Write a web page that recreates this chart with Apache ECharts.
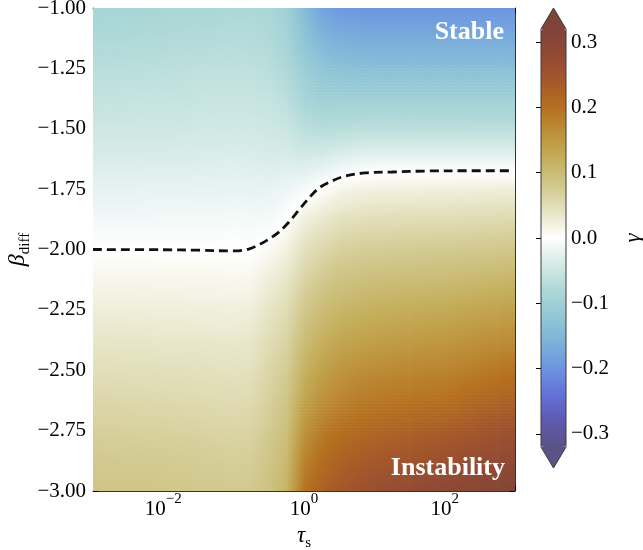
<!DOCTYPE html>
<html><head><meta charset="utf-8">
<script src="https://cdn.jsdelivr.net/npm/echarts@6/dist/echarts.min.js"></script>
<style>html,body{margin:0;padding:0;background:#fff}#c{width:643px;height:550px}</style>
</head><body><div id="c"></div>
<script>
// ---------------- data ----------------
const logTau = [-3,-2.75,-2.5,-2.25,-2,-1.75,-1.5,-1.25,-1,-0.75,-0.5,-0.25,0,0.25,0.5,0.75,1,1.25,1.5,1.75,2,2.25,2.5,2.75,3];
const beta = [-1,-1.125,-1.25,-1.375,-1.5,-1.625,-1.75,-1.875,-2,-2.125,-2.25,-2.375,-2.5,-2.625,-2.75,-2.875,-3];
// gamma per beta row (top to bottom), columns follow logTau
const gRow00 = [-0.090,-0.089,-0.088,-0.087,-0.086,-0.085,-0.084,-0.083,-0.081,-0.081,-0.084,-0.098,-0.140,-0.180,-0.195,-0.198,-0.200,-0.200,-0.200,-0.200,-0.200,-0.200,-0.200,-0.200,-0.200];
const gRow01 = [-0.079,-0.079,-0.078,-0.077,-0.076,-0.075,-0.074,-0.073,-0.072,-0.073,-0.076,-0.090,-0.123,-0.152,-0.162,-0.166,-0.168,-0.168,-0.168,-0.168,-0.168,-0.168,-0.168,-0.168,-0.168];
const gRow02 = [-0.068,-0.068,-0.067,-0.067,-0.066,-0.065,-0.064,-0.063,-0.063,-0.064,-0.067,-0.080,-0.105,-0.122,-0.130,-0.133,-0.135,-0.135,-0.135,-0.135,-0.135,-0.135,-0.135,-0.135,-0.135];
const gRow03 = [-0.058,-0.058,-0.057,-0.057,-0.056,-0.056,-0.055,-0.054,-0.053,-0.054,-0.057,-0.066,-0.088,-0.100,-0.100,-0.100,-0.100,-0.100,-0.100,-0.100,-0.100,-0.100,-0.100,-0.100,-0.100];
const gRow04 = [-0.047,-0.047,-0.047,-0.046,-0.046,-0.045,-0.044,-0.044,-0.043,-0.044,-0.046,-0.050,-0.065,-0.070,-0.068,-0.066,-0.064,-0.064,-0.065,-0.065,-0.065,-0.065,-0.066,-0.066,-0.066];
const gRow05 = [-0.036,-0.036,-0.036,-0.035,-0.035,-0.035,-0.034,-0.033,-0.032,-0.033,-0.035,-0.035,-0.038,-0.035,-0.028,-0.023,-0.020,-0.020,-0.020,-0.020,-0.020,-0.020,-0.020,-0.020,-0.020];
const gRow06 = [-0.024,-0.024,-0.024,-0.023,-0.023,-0.023,-0.022,-0.022,-0.021,-0.022,-0.022,-0.018,-0.010,0.002,0.014,0.018,0.020,0.021,0.021,0.022,0.022,0.023,0.023,0.024,0.024];
const gRow07 = [-0.012,-0.012,-0.012,-0.012,-0.011,-0.011,-0.011,-0.011,-0.010,-0.011,-0.010,0.000,0.022,0.033,0.042,0.046,0.048,0.049,0.050,0.050,0.050,0.052,0.053,0.054,0.055];
const gRow08 = [0.000,0.000,0.000,0.000,0.000,0.000,0.000,0.000,0.001,0.000,0.008,0.020,0.045,0.058,0.068,0.072,0.074,0.075,0.076,0.077,0.078,0.079,0.080,0.081,0.082];
const gRow09 = [0.013,0.013,0.013,0.013,0.012,0.012,0.012,0.012,0.011,0.012,0.025,0.037,0.062,0.078,0.088,0.092,0.095,0.097,0.098,0.099,0.100,0.103,0.105,0.108,0.110];
const gRow10 = [0.025,0.025,0.025,0.024,0.024,0.024,0.023,0.023,0.022,0.024,0.038,0.051,0.080,0.098,0.108,0.114,0.118,0.120,0.122,0.124,0.125,0.129,0.132,0.135,0.138];
const gRow11 = [0.037,0.037,0.036,0.036,0.035,0.035,0.035,0.034,0.033,0.035,0.050,0.063,0.097,0.118,0.130,0.136,0.140,0.143,0.146,0.148,0.150,0.154,0.158,0.162,0.165];
const gRow12 = [0.048,0.048,0.047,0.047,0.046,0.046,0.045,0.044,0.043,0.045,0.060,0.074,0.115,0.138,0.152,0.160,0.165,0.168,0.171,0.173,0.175,0.180,0.185,0.190,0.195];
const gRow13 = [0.059,0.059,0.058,0.058,0.057,0.056,0.055,0.054,0.053,0.055,0.069,0.085,0.135,0.160,0.175,0.184,0.190,0.193,0.196,0.198,0.200,0.207,0.213,0.219,0.225];
const gRow14 = [0.069,0.069,0.068,0.067,0.067,0.066,0.065,0.063,0.062,0.064,0.077,0.094,0.155,0.185,0.200,0.209,0.215,0.219,0.223,0.228,0.232,0.239,0.246,0.253,0.260];
const gRow15 = [0.078,0.078,0.077,0.076,0.076,0.075,0.074,0.072,0.070,0.072,0.084,0.103,0.175,0.205,0.222,0.232,0.240,0.245,0.250,0.255,0.260,0.266,0.272,0.278,0.285];
const gRow16 = [0.086,0.086,0.085,0.084,0.083,0.082,0.081,0.080,0.078,0.080,0.090,0.112,0.195,0.225,0.240,0.255,0.265,0.272,0.278,0.284,0.290,0.295,0.300,0.305,0.310];
const gammaRows = [gRow00,gRow01,gRow02,gRow03,gRow04,gRow05,gRow06,gRow07,gRow08,gRow09,gRow10,gRow11,gRow12,gRow13,gRow14,gRow15,gRow16];

// gamma = 0 contour (dashed line)
const contourLogTau = [-3.0,-2.0,-1.5,-0.986,-0.786,-0.643,-0.5,-0.357,-0.214,-0.071,0.071,0.214,0.4,0.586,0.871,1.257,1.729,2.3,2.94];
const contourBeta   = [-2.000,-2.001,-2.003,-2.006,-1.998,-1.981,-1.957,-1.928,-1.886,-1.836,-1.787,-1.745,-1.716,-1.696,-1.683,-1.679,-1.675,-1.674,-1.674];

// ticks / ranges
const xMin = 0.001, xMax = 1000;
const yMin = -3, yMax = -1, yStep = 0.25;
const cbMin = -0.32, cbMax = 0.32;
const cbTickValues = [-0.3,-0.2,-0.1,0,0.1,0.2,0.3];
// colormap, evenly spaced from cbMin to cbMax
const cmap = ['#5a5385','#5e5aaf','#6470d9','#6d94e0','#7cb1da','#92c7d6','#add8d7','#d4eae6','#ffffff','#e6e4c4','#d1c88d','#c5af5c','#bd913a','#b5701f','#a5582a','#914a34','#7f4339'];

// ---------------- layout ----------------
const G = {left: 93, top: 8, width: 422, height: 483};
const CB = {left: 541, top: 29, width: 25, height: 418, tri: 21};
const FONT = 'Liberation Serif';
const minus = '\u2212';
const NC = logTau.length, NR = beta.length, STRIPS = 10;

const cells = [];
beta.forEach((b, r) => logTau.forEach((lt, c) => cells.push([Math.pow(10, lt), b, gammaRows[r][c]])));
const contour = contourLogTau.map((lt, i) => [Math.pow(10, lt), contourBeta[i]]);

// colour lookup on the same colormap as the visualMap (linear in RGB)
const cmapRGB = cmap.map(h => [parseInt(h.slice(1,3),16), parseInt(h.slice(3,5),16), parseInt(h.slice(5,7),16)]);
function cm(v) {
  let t = (v - cbMin) / (cbMax - cbMin);
  t = Math.max(0, Math.min(1, t)) * (cmapRGB.length - 1);
  const i = Math.min(cmapRGB.length - 2, Math.floor(t)), f = t - i;
  const a = cmapRGB[i], b = cmapRGB[i + 1];
  return 'rgb(' + [0,1,2].map(k => Math.round(a[k] + (b[k] - a[k]) * f)).join(',') + ')';
}

// each grid node paints the (gouraud-shaded) cell to its lower right neighbour
function renderCell(params, api) {
  const idx = params.dataIndex, r = Math.floor(idx / NC), c = idx % NC;
  if (r >= NR - 1 || c >= NC - 1) return;
  const pA = api.coord([api.value(0), api.value(1)]);
  const pB = api.coord([Math.pow(10, logTau[c + 1]), beta[r + 1]]);
  const g00 = gammaRows[r][c], g01 = gammaRows[r][c + 1], g10 = gammaRows[r + 1][c], g11 = gammaRows[r + 1][c + 1];
  const w = pB[0] - pA[0], h = pB[1] - pA[1];
  const children = [];
  for (let k = 0; k < STRIPS; k++) {
    const tm = (k + 0.5) / STRIPS;
    const vL = g00 + (g10 - g00) * tm, vR = g01 + (g11 - g01) * tm, vM = (vL + vR) / 2;
    children.push({type: 'rect',
      shape: {x: pA[0] - 0.3, y: pA[1] + h * k / STRIPS - 0.3, width: w + 0.6, height: h / STRIPS + 0.6},
      style: {fill: new echarts.graphic.LinearGradient(0, 0, 1, 0, [
        {offset: 0, color: cm(vL)}, {offset: 0.5, color: cm(vM)}, {offset: 1, color: cm(vR)}])}});
  }
  return {type: 'group', children: children};
}

const frame = {show: true, onZero: false, lineStyle: {color: '#333', width: 1}};
const tick = {show: true, inside: true, length: 5, lineStyle: {color: '#000', width: 1}};
const supRich = {
  b: {fontFamily: FONT, fontSize: 21, lineHeight: 28, verticalAlign: 'bottom', color: '#000'},
  s: {fontFamily: FONT, fontSize: 15, lineHeight: 15, verticalAlign: 'top', color: '#000'}
};
function xLabel(v) {
  const e = Math.round(Math.log10(v));
  if (e % 2 !== 0) return '';
  return '{b|10}{s|' + (e < 0 ? minus : '') + Math.abs(e) + '}';
}

const chart = echarts.init(document.getElementById('c'), null, {renderer: 'canvas'});
chart.setOption({
  animation: false,
  backgroundColor: '#fff',
  textStyle: {fontFamily: FONT},
  grid: [
    {left: G.left, top: G.top, width: G.width, height: G.height, containLabel: false, outerBoundsMode: 'none'},
    {left: CB.left, top: CB.top, width: CB.width, height: CB.height, containLabel: false, outerBoundsMode: 'none'}
  ],
  xAxis: [
    {type: 'log', logBase: 100, gridIndex: 0, min: xMin, max: xMax, position: 'bottom',
     axisLine: frame, axisTick: tick,
     axisLabel: {formatter: xLabel, rich: supRich, margin: 1, hideOverlap: false},
     splitLine: {show: false}, minorTick: {show: false},
     name: '{g|\u03c4}{d|s}', nameLocation: 'middle', nameGap: 30,
     nameTextStyle: {rich: {
       g: {fontFamily: FONT, fontStyle: 'italic', fontSize: 23, lineHeight: 28, verticalAlign: 'middle', color: '#000'},
       d: {fontFamily: FONT, fontSize: 15, lineHeight: 15, verticalAlign: 'bottom', color: '#000'}}}},
    {type: 'log', logBase: 100, gridIndex: 0, min: xMin, max: xMax, position: 'top',
     axisLine: frame, axisTick: tick, axisLabel: {show: false}, splitLine: {show: false}},
    {type: 'value', gridIndex: 1, min: 0, max: 1, show: false}
  ],
  yAxis: [
    {type: 'value', gridIndex: 0, min: yMin, max: yMax, interval: yStep, position: 'left',
     axisLine: frame, axisTick: tick, splitLine: {show: false},
     axisLabel: {color: '#000', fontSize: 21, fontFamily: FONT, margin: 7,
       formatter: v => (v < 0 ? minus : '') + Math.abs(v).toFixed(2)},
     name: '{g|\u03b2}{d|diff}', nameLocation: 'middle', nameRotate: 90, nameGap: 60, nameMoveOverlap: false,
     nameTextStyle: {rich: {
       g: {fontFamily: FONT, fontStyle: 'italic', fontSize: 24, lineHeight: 30, verticalAlign: 'middle', color: '#000'},
       d: {fontFamily: FONT, fontSize: 15, lineHeight: 15, verticalAlign: 'bottom', color: '#000'}}}},
    {type: 'value', gridIndex: 0, min: yMin, max: yMax, interval: yStep, position: 'right',
     axisLine: frame, axisTick: tick, axisLabel: {show: false}, splitLine: {show: false}},
    {type: 'value', gridIndex: 1, min: cbMin, max: cbMax, position: 'right',
     axisLine: {show: false}, splitLine: {show: false},
     axisTick: Object.assign({}, tick, {customValues: cbTickValues}),
     axisLabel: {customValues: cbTickValues, color: '#000', fontSize: 21, fontFamily: FONT, margin: 5,
       formatter: v => (v < -1e-9 ? minus : '') + Math.abs(v).toFixed(1)},
     name: '\u03b3', nameLocation: 'middle', nameRotate: 90, nameGap: 56,
     nameTextStyle: {fontFamily: FONT, fontStyle: 'italic', fontSize: 23, color: '#000'}}
  ],
  visualMap: {
    type: 'continuous', min: cbMin, max: cbMax, seriesIndex: 0, dimension: 2,
    inRange: {color: cmap}, orient: 'vertical', left: CB.left, top: CB.top,
    itemWidth: CB.width, itemHeight: CB.height, padding: 0, calculable: false,
    hoverLink: false, realtime: false, show: true
  },
  series: [
    {type: 'custom', xAxisIndex: 0, yAxisIndex: 0, data: cells, encode: {x: 0, y: 1},
     dimensions: ['tau', 'beta', 'gamma'], renderItem: renderCell, silent: true, z: 1, clip: true},
    {type: 'line', xAxisIndex: 0, yAxisIndex: 0, data: contour, smooth: 0.35, symbol: 'none',
     lineStyle: {color: '#111', width: 2.8, type: [9, 5]}, silent: true, z: 5}
  ],
  graphic: [
    {type: 'polygon', z: 99, silent: true,
     shape: {points: [[CB.left, CB.top], [CB.left + CB.width / 2, CB.top - CB.tri], [CB.left + CB.width, CB.top]]},
     style: {fill: cmap[cmap.length - 1]}},
    {type: 'polygon', z: 99, silent: true,
     shape: {points: [[CB.left, CB.top + CB.height], [CB.left + CB.width / 2, CB.top + CB.height + CB.tri], [CB.left + CB.width, CB.top + CB.height]]},
     style: {fill: cmap[0]}},
    {type: 'polygon', z: 100, silent: true,
     shape: {points: [[CB.left, CB.top], [CB.left + CB.width / 2, CB.top - CB.tri], [CB.left + CB.width, CB.top],
                      [CB.left + CB.width, CB.top + CB.height], [CB.left + CB.width / 2, CB.top + CB.height + CB.tri], [CB.left, CB.top + CB.height]]},
     style: {fill: 'none', stroke: '#3a3a3a', lineWidth: 1}},
    {type: 'text', z: 100, silent: true, x: G.left + G.width - 11, y: G.top + 24,
     style: {text: 'Stable', fill: '#fff', font: 'bold 26px "Liberation Serif"', align: 'right', verticalAlign: 'middle', textAlign: 'right', textVerticalAlign: 'middle'}},
    {type: 'text', z: 100, silent: true, x: G.left + G.width - 10, y: G.top + G.height - 23,
     style: {text: 'Instability', fill: '#fff', font: 'bold 26px "Liberation Serif"', align: 'right', verticalAlign: 'middle', textAlign: 'right', textVerticalAlign: 'middle'}}
  ]
});
</script></body></html>
